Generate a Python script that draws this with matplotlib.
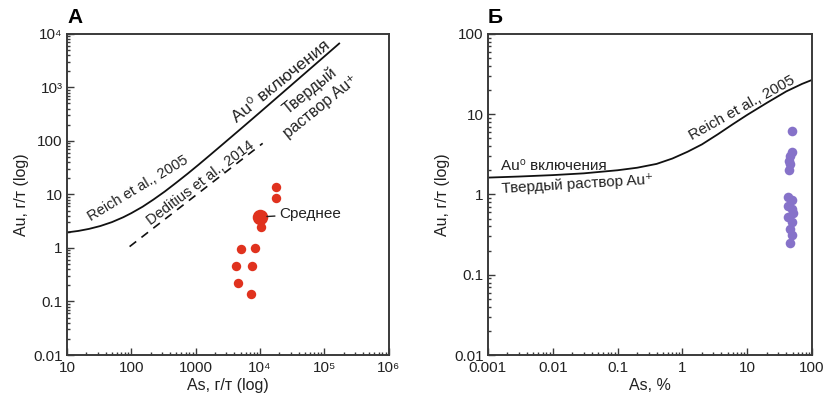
import matplotlib
matplotlib.use('Agg')
import matplotlib.pyplot as plt
from matplotlib.ticker import FixedLocator, FixedFormatter, LogLocator, NullFormatter

plt.rcParams['font.family'] = ['Liberation Sans', 'DejaVu Sans']

# panel A - As, Au in g/t
reich_a_as = [10, 15, 22, 33, 50, 75, 100, 150, 220, 330, 500, 750, 1100, 1600,
              2500, 5000, 10000, 30000, 100000, 170000]
reich_a_au = [1.95, 2.08, 2.27, 2.57, 3.04, 3.75, 4.47, 5.9, 8.0, 11.3, 16.6, 24.4,
              35.6, 52, 82, 167, 342, 1076, 3780, 6590]
dedit_as = [94, 11000]
dedit_au = [1.06, 90]
red_as = [17600, 17600, 10500, 5060, 8430, 4240, 7500, 4600, 7230]
red_au = [14.0, 8.6, 2.5, 0.95, 1.0, 0.47, 0.47, 0.22, 0.14]
mean_as = 10000
mean_au = 3.8

a_xticks = [10, 100, 1000, 1e4, 1e5, 1e6]
a_xlabels = ['10', '100', '1000', '10⁴', '10⁵', '10⁶']
a_yticks = [0.01, 0.1, 1, 10, 100, 1000, 1e4]
a_ylabels = ['0.01', '0.1', '1', '10', '100', '10³', '10⁴']

# panel B - As in %, Au in g/t
reich_b_as = [0.001, 0.003, 0.01, 0.03, 0.1, 0.2, 0.4, 0.7, 1.2, 2, 3.5, 6, 10,
              20, 40, 70, 100]
reich_b_au = [1.62, 1.67, 1.74, 1.83, 2.0, 2.15, 2.4, 2.8, 3.4, 4.2, 5.6, 7.5, 9.8,
              13.8, 19.2, 23.8, 26.7]
violet_as = [49, 49, 46, 44, 46, 44, 43, 49, 43, 49, 50, 43, 49, 45, 49, 46]
violet_au = [6.1, 3.4, 3.0, 2.6, 2.4, 2.0, 0.93, 0.86, 0.72, 0.65, 0.58, 0.53, 0.45,
             0.37, 0.31, 0.25]

b_xticks = [0.001, 0.01, 0.1, 1, 10, 100]
b_xlabels = ['0.001', '0.01', '0.1', '1', '10', '100']
b_yticks = [0.01, 0.1, 1, 10, 100]
b_ylabels = ['0.01', '0.1', '1', '10', '100']

RED = '#e0321e'
VIOLET = '#8672c9'
SPINE = '#3a3a3a'
TXT = '#222222'


def style_axes(ax, xticks, xlabels, yticks, ylabels):
    ax.set_xscale('log')
    ax.set_yscale('log')
    ax.set_xlim(xticks[0], xticks[-1])
    ax.set_ylim(yticks[0], yticks[-1])
    ax.xaxis.set_major_locator(FixedLocator(xticks))
    ax.xaxis.set_major_formatter(FixedFormatter(xlabels))
    ax.yaxis.set_major_locator(FixedLocator(yticks))
    ax.yaxis.set_major_formatter(FixedFormatter(ylabels))
    ax.xaxis.set_minor_locator(LogLocator(base=10, subs=range(2, 10), numticks=20))
    ax.yaxis.set_minor_locator(LogLocator(base=10, subs=range(2, 10), numticks=20))
    ax.xaxis.set_minor_formatter(NullFormatter())
    ax.yaxis.set_minor_formatter(NullFormatter())
    ax.tick_params(which='both', direction='in', top=False, right=False,
                   color=SPINE, width=1.0, labelsize=11, labelcolor=TXT)
    ax.tick_params(which='major', length=5, pad=3)
    ax.tick_params(axis='x', which='major', pad=4.5)
    ax.tick_params(which='minor', length=2.5)
    for sp in ax.spines.values():
        sp.set_color(SPINE)
        sp.set_linewidth(1.4)


fig = plt.figure(figsize=(8.27, 3.98), dpi=100)
ax1 = fig.add_axes([0.081, 0.108, 0.389, 0.807])
ax2 = fig.add_axes([0.590, 0.108, 0.392, 0.807])

# ---- panel A
style_axes(ax1, a_xticks, a_xlabels, a_yticks, a_ylabels)
ax1.plot(reich_a_as, reich_a_au, color='#111111', lw=1.3)
ax1.plot(dedit_as, dedit_au, color='#111111', lw=1.2, ls=(0, (5, 4)))
ax1.scatter(red_as, red_au, s=46, color=RED, zorder=3, linewidths=0)
ax1.scatter([mean_as], [mean_au], s=125, color=RED, zorder=3, linewidths=0)
ax1.annotate('Среднее', xy=(mean_as, mean_au), xytext=(19800, 4.3),
             fontsize=11, va='center', ha='left', color=TXT,
             arrowprops=dict(arrowstyle='-', color=TXT, lw=1.0,
                             shrinkA=1, shrinkB=5))

ax1.text(126, 13.2, 'Reich et al., 2005', rotation=31, fontsize=10.5,
         ha='center', va='center', rotation_mode='anchor', color=TXT)
ax1.text(1186, 16.4, 'Deditius et al., 2014', rotation=37, fontsize=10.5,
         ha='center', va='center', rotation_mode='anchor', color=TXT)
ax1.text(21300, 1268, 'Au⁰ включения', rotation=39, fontsize=12.5,
         ha='center', va='center', rotation_mode='anchor', color=TXT)
ax1.text(59800, 861, 'Твердый', rotation=39, fontsize=11.5,
         ha='center', va='center', rotation_mode='anchor', color=TXT)
ax1.text(88500, 432, 'раствор Au⁺', rotation=39, fontsize=11.5,
         ha='center', va='center', rotation_mode='anchor', color=TXT)

ax1.set_xlabel('As, г/т (log)', fontsize=11.5, color=TXT, labelpad=2)
ax1.set_ylabel('Au, г/т (log)', fontsize=11.5, color=TXT, labelpad=3)
ax1.text(0.0, 1.022, 'А', transform=ax1.transAxes, fontsize=15,
         fontweight='bold', ha='left', va='bottom')

# ---- panel B
style_axes(ax2, b_xticks, b_xlabels, b_yticks, b_ylabels)
ax2.plot(reich_b_as, reich_b_au, color='#111111', lw=1.3)
ax2.scatter(violet_as, violet_au, s=48, color=VIOLET, zorder=3, linewidths=0)

ax2.text(0.00159, 2.02, 'Au⁰ включения', fontsize=11,
         ha='left', va='baseline', color=TXT)
ax2.text(0.00164, 1.045, 'Твердый раствор Au⁺', fontsize=11, rotation=3.5,
         ha='left', va='baseline', rotation_mode='anchor', color=TXT)
ax2.text(8.3, 12, 'Reich et al., 2005', rotation=29, fontsize=11,
         ha='center', va='center', rotation_mode='anchor', color=TXT)

ax2.set_xlabel('As, %', fontsize=11.5, color=TXT, labelpad=2)
ax2.set_ylabel('Au, г/т (log)', fontsize=11.5, color=TXT, labelpad=3)
ax2.text(0.0, 1.022, 'Б', transform=ax2.transAxes, fontsize=15,
         fontweight='bold', ha='left', va='bottom')

fig.savefig('out.png', dpi=100)
